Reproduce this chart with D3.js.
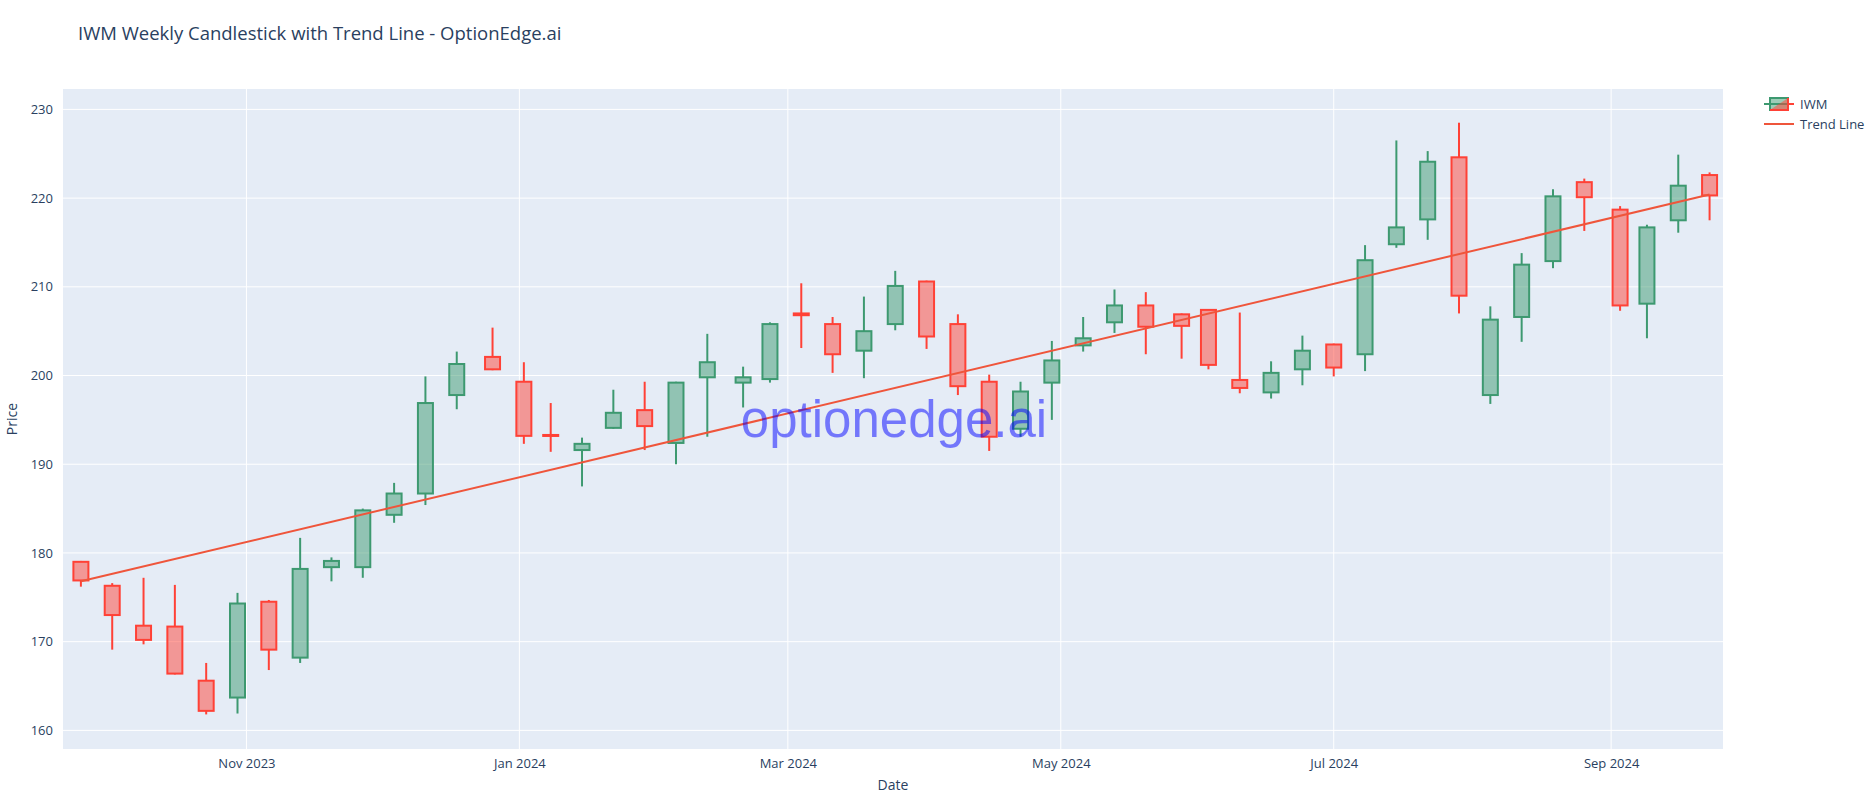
<!DOCTYPE html>
<html><head><meta charset="utf-8">
<script src="https://cdn.jsdelivr.net/npm/d3@7"></script>
<style>body{margin:0;background:#fff;font-family:"Open Sans",Arial,sans-serif}</style>
</head><body><svg id="c" width="1870" height="806"></svg>
<script>
const dates=["2023-09-25","2023-10-02","2023-10-09","2023-10-16","2023-10-23","2023-10-30","2023-11-06","2023-11-13","2023-11-20","2023-11-27","2023-12-04","2023-12-11","2023-12-18","2023-12-26","2024-01-02","2024-01-08","2024-01-15","2024-01-22","2024-01-29","2024-02-05","2024-02-12","2024-02-20","2024-02-26","2024-03-04","2024-03-11","2024-03-18","2024-03-25","2024-04-01","2024-04-08","2024-04-15","2024-04-22","2024-04-29","2024-05-06","2024-05-13","2024-05-20","2024-05-28","2024-06-03","2024-06-10","2024-06-17","2024-06-24","2024-07-01","2024-07-08","2024-07-15","2024-07-22","2024-07-29","2024-08-05","2024-08-12","2024-08-19","2024-08-26","2024-09-03","2024-09-09","2024-09-16","2024-09-23"];
const open=[179,176.3,171.8,171.7,165.6,163.7,174.5,168.2,178.4,178.4,184.3,186.7,197.8,202.1,199.3,193.3,191.6,194.1,196.1,192.4,199.8,199.2,199.6,207.0,205.8,202.8,205.8,210.6,205.8,199.3,194,199.2,203.4,206,207.9,206.9,207.4,199.5,198.1,200.7,203.5,202.4,214.8,217.6,224.6,197.8,206.6,212.9,221.8,218.7,208.1,217.5,222.6];
const high=[179.1,176.6,177.2,176.4,167.6,175.5,174.7,181.7,179.5,185,187.9,199.9,202.7,205.4,201.5,196.9,193,198.4,199.3,199.3,204.7,201,206,210.4,206.6,208.9,211.8,210.7,206.9,200.1,199.3,203.9,206.6,209.7,209.4,207,207.5,207.1,201.6,204.5,203.6,214.7,226.5,225.3,228.5,207.8,213.8,221,222.2,219.1,217,224.9,222.9];
const low=[176.2,169.1,169.7,166.3,161.8,161.9,166.8,167.6,176.8,177.2,183.4,185.4,196.2,200.6,192.3,191.4,187.5,194,191.6,190,193.1,196.4,199.2,203.1,200.3,199.7,205.1,203,197.8,191.5,193.1,195,202.7,204.8,202.4,201.9,200.7,198,197.4,198.9,199.9,200.5,214.4,215.3,207,196.8,203.8,212.1,216.3,207.3,204.2,216.1,217.5];
const close=[176.9,173,170.2,166.4,162.2,174.3,169.1,178.2,179.1,184.8,186.7,196.9,201.3,200.7,193.2,193.2,192.3,195.8,194.3,199.2,201.5,199.8,205.8,206.8,202.4,205,210.1,204.4,198.8,193.1,198.2,201.7,204.2,207.9,205.5,205.6,201.2,198.6,200.3,202.8,200.9,213,216.7,224.1,209,206.3,212.5,220.2,220.1,207.9,216.7,221.4,220.3];
const trendDates=["2023-09-25","2024-09-23"];
const trendValues=[176.8,220.4];
const yTicks=[160,170,180,190,200,210,220,230];
const xTicks=["2023-11-01","2024-01-01","2024-03-01","2024-05-01","2024-07-01","2024-09-01"];

const P=d3.timeParse("%Y-%m-%d");
const svg=d3.select("#c");
const L=63,R=1723,T=89,B=749;
const x=d3.scaleTime().domain([P("2023-09-21"),P("2024-09-26")]).range([L,R]);
const y=d3.scaleLinear().domain([157.9,232.3]).range([B,T]);
svg.append("rect").attr("x",L).attr("y",T).attr("width",R-L).attr("height",B-T).attr("fill","#E5ECF6");
const g=svg.append("g");
g.selectAll(".gy").data(yTicks).join("line").attr("x1",L).attr("x2",R).attr("y1",d=>y(d)).attr("y2",d=>y(d)).attr("stroke","#fff").attr("stroke-width",1);
g.selectAll(".gx").data(xTicks).join("line").attr("y1",T).attr("y2",B).attr("x1",d=>x(P(d))).attr("x2",d=>x(P(d))).attr("stroke","#fff").attr("stroke-width",1);
const ya=svg.append("g").attr("transform",`translate(${L},0)`).call(d3.axisLeft(y).tickValues(yTicks).tickSize(0).tickPadding(10));
const xa=svg.append("g").attr("transform",`translate(0,${B})`).call(d3.axisBottom(x).tickValues(xTicks.map(P)).tickFormat(d3.timeFormat("%b %Y")).tickSize(0).tickPadding(10));
[ya,xa].forEach(a=>{a.select(".domain").remove();a.selectAll("text").attr("fill","#2a3f5f").style("font-size","13px").style("font-family","'Open Sans',sans-serif");});
const data=dates.map((d,i)=>({d:P(d),o:open[i],h:high[i],l:low[i],c:close[i]}));
const w=15;
const cg=svg.append("g");
data.forEach(k=>{
  const up=k.c>=k.o, col=up?"#3D9970":"#FF4136", fill=up?"rgba(61,153,112,0.5)":"rgba(255,65,54,0.5)";
  const cx=x(k.d);
  cg.append("line").attr("x1",cx).attr("x2",cx).attr("y1",y(k.h)).attr("y2",y(Math.max(k.o,k.c))).attr("stroke",col).attr("stroke-width",2);
  cg.append("line").attr("x1",cx).attr("x2",cx).attr("y1",y(Math.min(k.o,k.c))).attr("y2",y(k.l)).attr("stroke",col).attr("stroke-width",2);
  cg.append("rect").attr("x",cx-w/2).attr("width",w).attr("y",y(Math.max(k.o,k.c))).attr("height",Math.max(1,Math.abs(y(k.o)-y(k.c)))).attr("fill",fill).attr("stroke",col).attr("stroke-width",2);
});
svg.append("path").datum(trendDates.map((d,i)=>[P(d),trendValues[i]])).attr("d",d3.line().x(d=>x(d[0])).y(d=>y(d[1]))).attr("fill","none").attr("stroke","#EF553B").attr("stroke-width",2);
svg.append("text").attr("x",894).attr("y",437).attr("text-anchor","middle").attr("fill","rgba(0,0,255,0.5)").style("font-family","Arial,'Liberation Sans',sans-serif").style("font-size","51px").text("optionedge.ai");
svg.append("text").attr("x",78).attr("y",40).attr("fill","#2a3f5f").style("font-size","18.5px").text("IWM Weekly Candlestick with Trend Line - OptionEdge.ai");
svg.append("text").attr("x",(L+R)/2).attr("y",790).attr("text-anchor","middle").attr("fill","#2a3f5f").style("font-size","14px").text("Date");
svg.append("text").attr("transform",`translate(17,${(T+B)/2}) rotate(-90)`).attr("text-anchor","middle").attr("fill","#2a3f5f").style("font-size","14px").text("Price");
const lg=svg.append("g").attr("transform","translate(1764,104)");
lg.append("line").attr("x1",0).attr("x2",30).attr("y1",0).attr("y2",0).attr("stroke","#3D9970").attr("stroke-width",2);
lg.append("rect").attr("x",6).attr("y",-6).attr("width",18).attr("height",12).attr("fill","rgba(61,153,112,0.5)").attr("stroke","#3D9970").attr("stroke-width",2);
lg.append("path").attr("d","M6,6 L24,-6 L24,6 Z").attr("fill","rgba(255,65,54,0.5)");
lg.append("path").attr("d","M6,6 L24,6 L24,-6 M24,0 L30,0").attr("fill","none").attr("stroke","#FF4136").attr("stroke-width",2);
lg.append("text").attr("x",36).attr("y",5).attr("fill","#2a3f5f").style("font-size","13px").text("IWM");
lg.append("line").attr("x1",0).attr("x2",30).attr("y1",20).attr("y2",20).attr("stroke","#EF553B").attr("stroke-width",2);
lg.append("text").attr("x",36).attr("y",25).attr("fill","#2a3f5f").style("font-size","13px").text("Trend Line");
</script></body></html>
